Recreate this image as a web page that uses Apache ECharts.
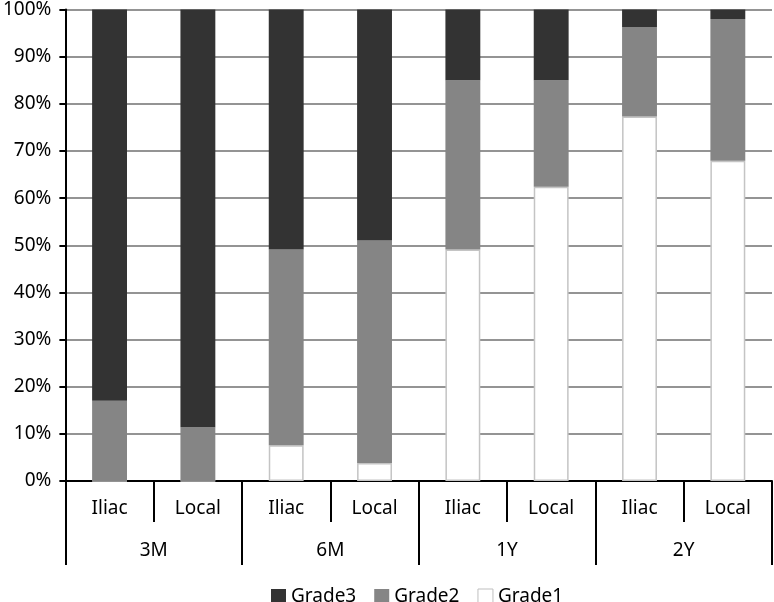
<!DOCTYPE html>
<html>
<head>
<meta charset="utf-8">
<script src="https://cdn.jsdelivr.net/npm/echarts@6/dist/echarts.min.js"></script>
<style>
html,body{margin:0;padding:0;background:#fff;}
#chart{width:774px;height:602px;}
</style>
</head>
<body>
<div id="chart"></div>
<script>
const subCategories = ['Iliac', 'Local', 'Iliac', 'Local', 'Iliac', 'Local', 'Iliac', 'Local'];
const groups = ['3M', '6M', '1Y', '2Y'];
const grade1 = [0, 0, 7.6, 3.8, 49.1, 62.4, 77.3, 67.9];
const grade2 = [17.0, 11.4, 41.5, 47.2, 35.9, 22.6, 19.0, 30.1];
const grade3 = [83.0, 88.6, 50.9, 49.0, 15.0, 15.0, 3.7, 2.0];
const yTicks = [0, 10, 20, 30, 40, 50, 60, 70, 80, 90, 100];

const FONT = 'Noto Sans';
const FS = 19;
const chart = echarts.init(document.getElementById('chart'), null, {renderer: 'canvas'});

const catIdx = subCategories.map((_, i) => 'c' + i);

chart.setOption({
  animation: false,
  backgroundColor: '#ffffff',
  textStyle: {fontFamily: FONT},
  grid: {left: 63, right: 2, top: 9, bottom: 121, containLabel: false},
  legend: {
    left: 266, top: 582,
    icon: 'rect',
    itemWidth: 15, itemHeight: 15, itemGap: 18,
    textStyle: {fontFamily: FONT, fontSize: FS, color: '#000'},
    data: [
      {name: 'Grade3'},
      {name: 'Grade2'},
      {name: 'Grade1', itemStyle: {color: '#ffffff', borderColor: '#bfbfbf', borderWidth: 1}}
    ]
  },
  xAxis: [
    {
      type: 'category',
      data: catIdx,
      position: 'bottom',
      axisLine: {show: true, lineStyle: {color: '#000', width: 2}},
      axisTick: {show: true, interval: 0, length: 41, lineStyle: {color: '#000', width: 2}},
      axisLabel: {
        interval: 0, margin: 18, fontFamily: FONT, fontSize: FS, color: '#000',
        formatter: (v) => subCategories[parseInt(v.slice(1))]
      },
      splitLine: {show: false}
    },
    {
      type: 'category',
      data: groups,
      position: 'bottom',
      axisLine: {show: false},
      axisTick: {show: true, interval: 0, length: 84, lineStyle: {color: '#000', width: 2}},
      axisLabel: {interval: 0, margin: 60, fontFamily: FONT, fontSize: FS, color: '#000'},
      splitLine: {show: false}
    }
  ],
  yAxis: {
    type: 'value',
    min: yTicks[0], max: yTicks[yTicks.length - 1], interval: 10,
    axisLine: {show: true, lineStyle: {color: '#000', width: 2}},
    axisTick: {show: true, length: 6, lineStyle: {color: '#000', width: 2}},
    axisLabel: {margin: 14, fontFamily: FONT, fontSize: FS, color: '#000', formatter: '{value}%'},
    splitLine: {show: true, lineStyle: {color: '#707070', width: 1.5}}
  },
  series: [
    {
      name: 'Grade1', type: 'bar', stack: 'g', data: grade1, barWidth: '39.5%',
      itemStyle: {color: '#ffffff', borderColor: '#c4c4c4', borderWidth: 1.5}
    },
    {
      name: 'Grade2', type: 'bar', stack: 'g', data: grade2, barWidth: '39.5%',
      itemStyle: {color: '#858585'}
    },
    {
      name: 'Grade3', type: 'bar', stack: 'g', data: grade3, barWidth: '39.5%',
      itemStyle: {color: '#333333'}
    }
  ]
});
</script>
</body>
</html>
